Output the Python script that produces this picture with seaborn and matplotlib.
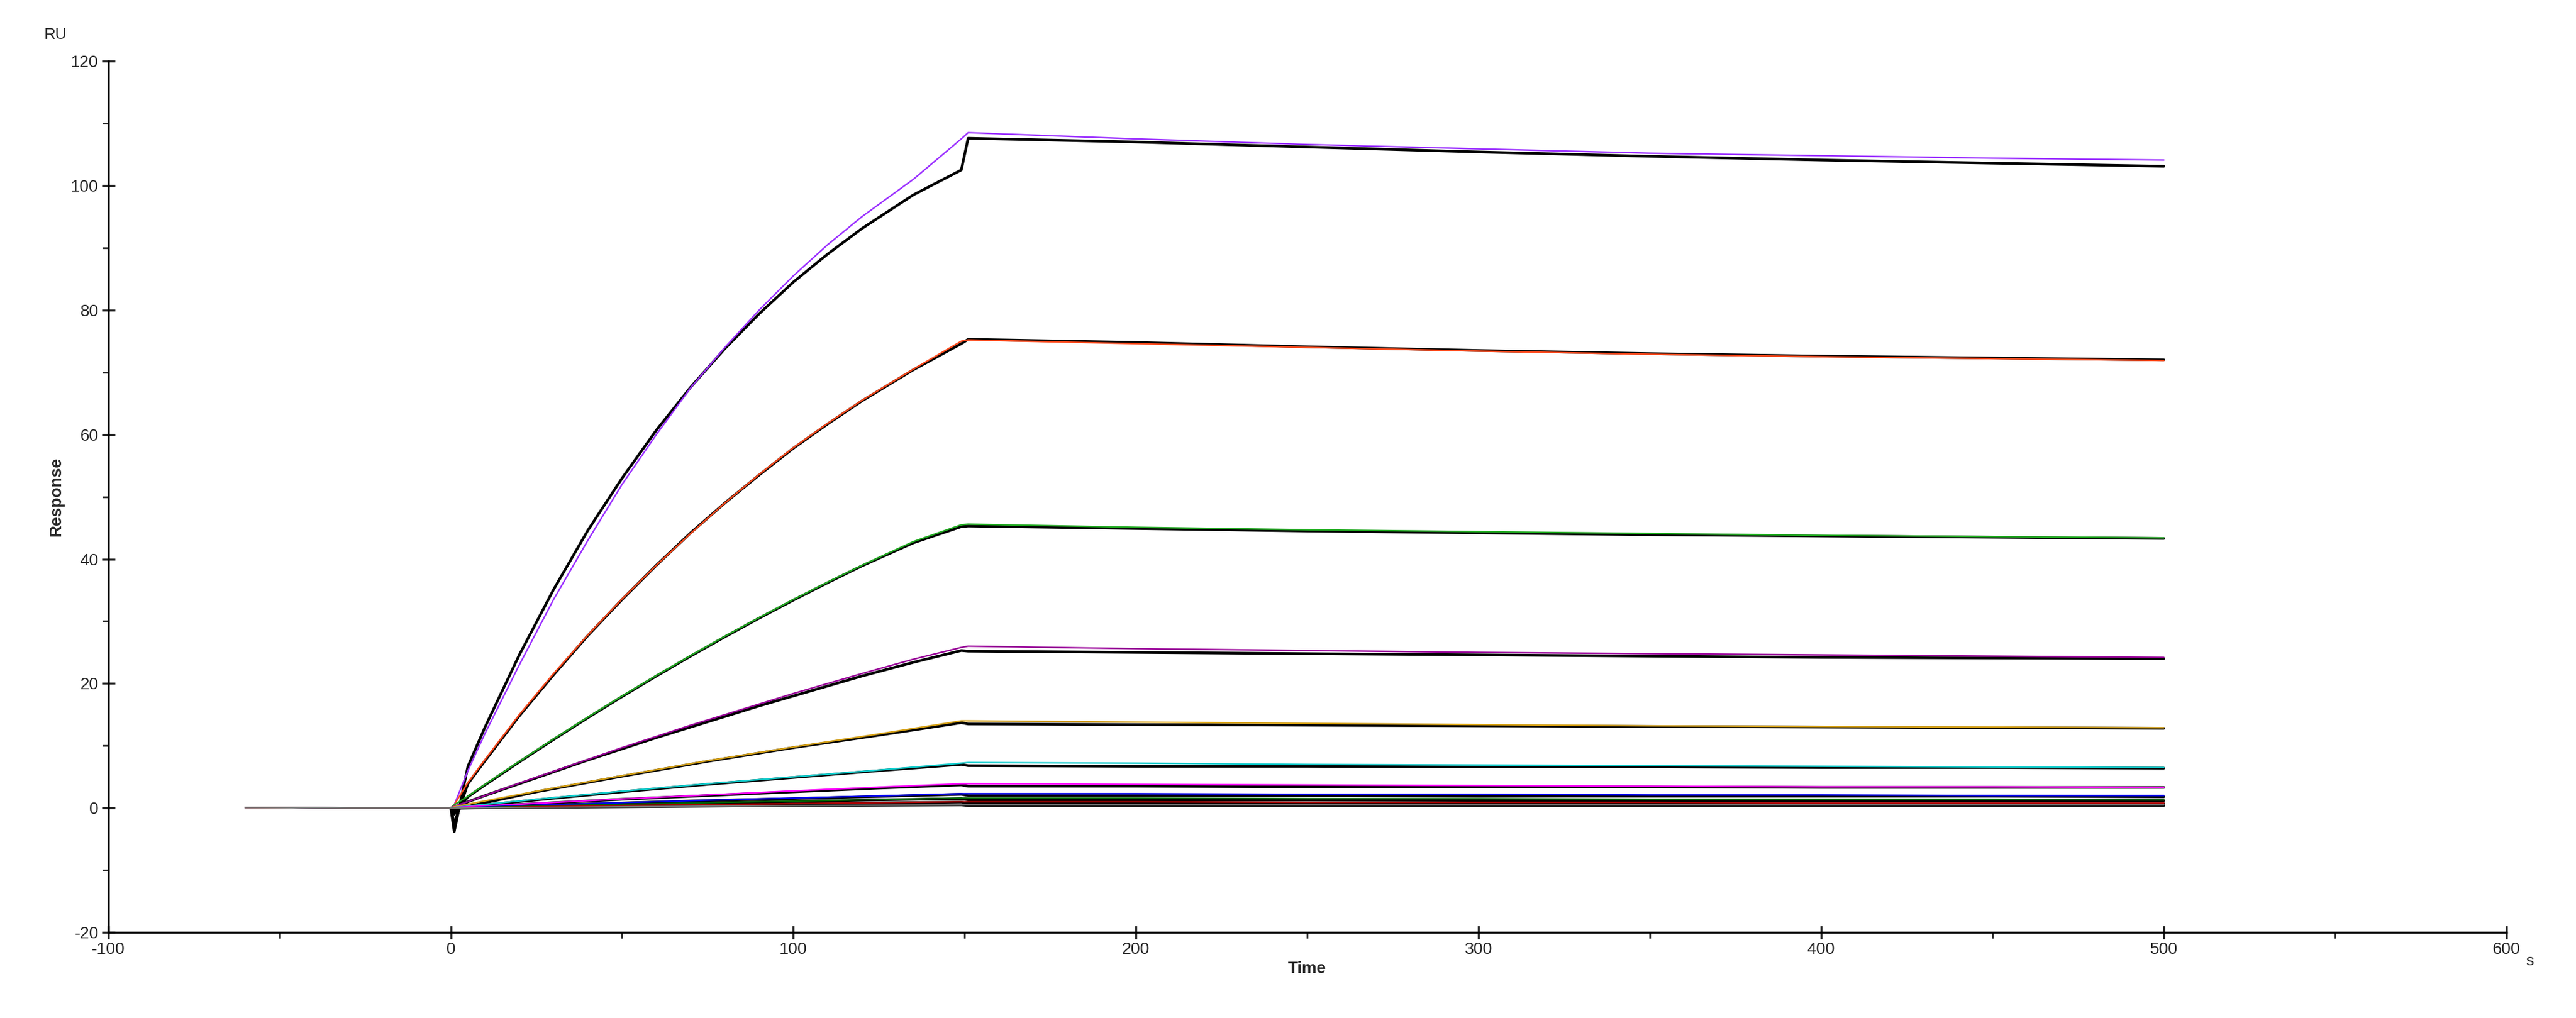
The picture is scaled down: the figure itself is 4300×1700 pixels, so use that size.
import numpy as np
import pandas as pd
import matplotlib
matplotlib.use("Agg")
import matplotlib.pyplot as plt
import seaborn as sns
from matplotlib.ticker import MultipleLocator

# time points (s)
t_base = [-60, -30, -1]
t_assoc_fine = [0, 1, 5, 10, 20, 30, 40, 50, 60, 70, 80, 90, 100, 110, 120, 135, 149]
t_assoc = [0, 1, 25, 50, 75, 100, 125, 149]
t_dissoc = [151, 200, 250, 300, 350, 400, 450, 500]

colors = ["#9b30ff", "#ff4a1c", "#22aa22", "#990099", "#d4a017",
          "#11cccc", "#ff00ff", "#0000ee", "#006400", "#aa0000", "#777777"]

# measured curves, top four sampled finely during association
data_assoc_top = [
    [0, 0.5, 6, 12, 23, 33.5, 43, 52, 60, 67.5, 74, 80, 85.5, 90.5, 95, 101, 107.5],
    [0, 0.5, 4.1, 7.8, 15, 21.6, 27.8, 33.6, 39, 44.1, 49, 53.6, 57.9, 61.8, 65.5, 70.5, 75],
    [0, 0.5, 1.9, 3.8, 7.5, 11.1, 14.6, 18, 21.3, 24.5, 27.6, 30.6, 33.5, 36.3, 39, 42.8, 45.5],
    [0, 0.3, 1.0, 2.0, 4.0, 5.9, 7.8, 9.7, 11.5, 13.3, 15, 16.7, 18.4, 20, 21.6, 23.9, 25.8],
]
data_assoc_low = [
    [0, 0.2, 2.7, 5.2, 7.6, 9.8, 11.9, 14],
    [0, 0.1, 1.4, 2.7, 3.9, 5.0, 6.1, 7.2],
    [0, 0.1, 0.75, 1.45, 2.1, 2.75, 3.35, 3.9],
    [0, 0.0, 0.45, 0.85, 1.25, 1.6, 1.95, 2.3],
    [0, 0.0, 0.3, 0.6, 0.85, 1.1, 1.35, 1.6],
    [0, 0.0, 0.2, 0.4, 0.55, 0.7, 0.85, 1.0],
    [0, 0.0, 0.1, 0.2, 0.3, 0.4, 0.45, 0.5],
]
data_dissoc = [
    [108.5, 107.5, 106.6, 105.9, 105.2, 104.8, 104.4, 104.1],
    [75.2, 74.6, 74.0, 73.4, 72.9, 72.5, 72.2, 71.9],
    [45.6, 45.1, 44.7, 44.4, 44.1, 43.8, 43.6, 43.4],
    [26.0, 25.6, 25.3, 25.0, 24.8, 24.6, 24.4, 24.2],
    [14.0, 13.8, 13.6, 13.4, 13.2, 13.1, 13.0, 12.9],
    [7.3, 7.2, 7.0, 6.9, 6.8, 6.7, 6.6, 6.5],
    [3.9, 3.8, 3.7, 3.6, 3.5, 3.4, 3.4, 3.3],
    [2.3, 2.3, 2.2, 2.2, 2.1, 2.1, 2.0, 2.0],
    [1.6, 1.6, 1.5, 1.5, 1.4, 1.4, 1.4, 1.3],
    [1.0, 1.0, 0.9, 0.9, 0.9, 0.8, 0.8, 0.8],
    [0.5, 0.5, 0.5, 0.5, 0.5, 0.5, 0.5, 0.5],
]
data_base = [0.1, 0.0, 0.0]

# fitted curves (black)
fit_assoc_top = [
    [0, -3.8, 6.7, 13, 24.6, 35.1, 44.6, 53, 60.7, 67.6, 73.8, 79.4, 84.5, 89, 93.1, 98.5, 102.5],
    [0, -2.5, 3.9, 7.6, 14.8, 21.4, 27.7, 33.5, 39, 44.2, 49, 53.5, 57.8, 61.7, 65.4, 70.4, 74.6],
    [0, -1.0, 1.8, 3.7, 7.4, 11, 14.5, 17.9, 21.2, 24.4, 27.5, 30.5, 33.4, 36.2, 38.9, 42.6, 45.2],
    [0, -0.5, 1.0, 2.0, 3.9, 5.8, 7.7, 9.5, 11.3, 13.0, 14.7, 16.4, 18.0, 19.6, 21.2, 23.4, 25.3],
]
fit_assoc_low = [
    [0, -0.2, 2.6, 5.1, 7.5, 9.7, 11.7, 13.7],
    [0, 0.0, 1.3, 2.6, 3.8, 4.9, 6.0, 7.0],
    [0, 0.0, 0.7, 1.4, 2.0, 2.6, 3.2, 3.7],
    [0, 0.0, 0.4, 0.8, 1.2, 1.5, 1.85, 2.2],
    [0, 0.0, 0.3, 0.55, 0.8, 1.05, 1.3, 1.5],
    [0, 0.0, 0.2, 0.35, 0.5, 0.65, 0.8, 0.95],
    [0, 0.0, 0.1, 0.2, 0.3, 0.4, 0.45, 0.5],
]
fit_dissoc = [
    [107.6, 107.0, 106.2, 105.4, 104.7, 104.1, 103.6, 103.1],
    [75.3, 74.8, 74.1, 73.5, 73.0, 72.6, 72.3, 72.0],
    [45.3, 44.9, 44.5, 44.2, 43.9, 43.7, 43.5, 43.3],
    [25.2, 25.0, 24.8, 24.6, 24.4, 24.2, 24.1, 24.0],
    [13.5, 13.4, 13.3, 13.2, 13.1, 13.0, 12.9, 12.8],
    [6.8, 6.7, 6.7, 6.6, 6.6, 6.5, 6.5, 6.4],
    [3.5, 3.5, 3.4, 3.4, 3.4, 3.3, 3.3, 3.3],
    [2.0, 2.0, 2.0, 1.9, 1.9, 1.9, 1.9, 1.8],
    [1.3, 1.3, 1.3, 1.2, 1.2, 1.2, 1.2, 1.2],
    [0.8, 0.8, 0.8, 0.8, 0.7, 0.7, 0.7, 0.7],
    [0.4, 0.4, 0.4, 0.4, 0.4, 0.4, 0.4, 0.4],
]

data_assoc = data_assoc_top + data_assoc_low
fit_assoc = fit_assoc_top + fit_assoc_low

sns.set_style("white")
plt.rcParams["font.family"] = ["Liberation Sans", "DejaVu Sans"]
plt.rcParams["axes.unicode_minus"] = False

fig = plt.figure(figsize=(43, 17), dpi=100)
ax = fig.add_axes([0.042, 0.084, 0.931, 0.856])

# fits first, measured curves on top so the colours stay visible
for i in range(len(colors)):
    ta = t_assoc_fine if i < 4 else t_assoc
    df = pd.DataFrame({"t": ta + t_dissoc,
                       "r": fit_assoc[i] + fit_dissoc[i]})
    sns.lineplot(data=df, x="t", y="r", color="black", lw=3.2, sort=False,
                 estimator=None, ax=ax)
for i, c in enumerate(colors):
    ta = t_assoc_fine if i < 4 else t_assoc
    df = pd.DataFrame({"t": t_base + ta + t_dissoc,
                       "r": data_base + data_assoc[i] + data_dissoc[i]})
    sns.lineplot(data=df, x="t", y="r", color=c, lw=1.8, sort=False,
                 estimator=None, ax=ax)

ax.set_xlim(-100, 600)
ax.set_ylim(-20, 120)
ax.xaxis.set_major_locator(MultipleLocator(100))
ax.xaxis.set_minor_locator(MultipleLocator(50))
ax.yaxis.set_major_locator(MultipleLocator(20))
ax.yaxis.set_minor_locator(MultipleLocator(10))
ax.tick_params(which="major", direction="inout", length=16, width=2.5,
               labelsize=20, left=True, bottom=True)
ax.tick_params(which="minor", direction="out", length=7, width=2,
               left=True, bottom=True)
for s in ["top", "right"]:
    ax.spines[s].set_visible(False)
for s in ["left", "bottom"]:
    ax.spines[s].set_linewidth(2.5)
    ax.spines[s].set_color("black")

ax.set_xlabel("Time", fontsize=20, fontweight="bold", labelpad=4)
ax.set_ylabel("Response", fontsize=20, fontweight="bold", labelpad=8)
fig.text(0.0215, 0.962, "RU", fontsize=19, ha="center")
fig.text(0.982, 0.052, "s", fontsize=19, ha="center")

fig.savefig("out.png", dpi=100)
